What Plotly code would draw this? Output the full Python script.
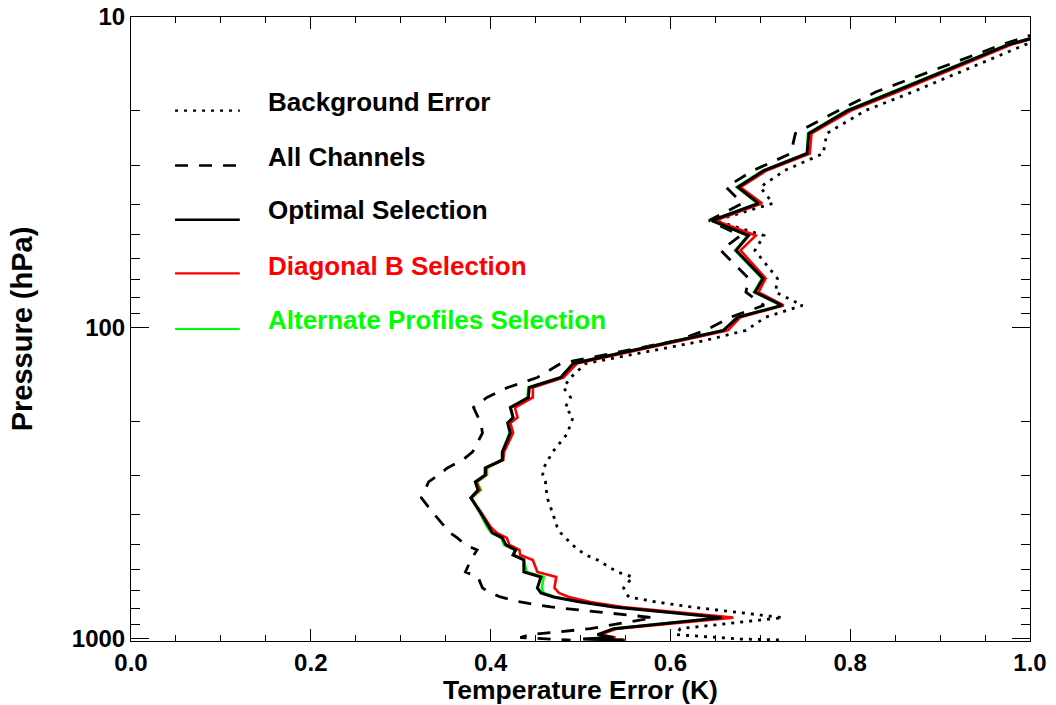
import plotly.graph_objects as go

# Pressure levels (hPa) shared by every profile
pressure = [10.0, 12.3, 17.4, 20.0, 23.7, 27.5, 31.2, 35.3, 39.8, 45.2,
            50.5, 56.4, 69.4, 76.9, 84.8, 92.5, 102.0, 109.9, 130.4, 144.7,
            155.8, 167.8, 180.7, 194.6, 202.6, 218.2, 251.2, 266.6, 282.8, 297.9,
            313.7, 333.0, 353.2, 394.8, 437.9, 457.8, 475.1, 500.4, 519.3, 539.0,
            559.4, 611.6, 634.6, 688.5, 714.5, 736.0, 763.8, 792.6, 857.8, 930.7,
            972.9, 994.8, 1005.0, 1013.0]

# Temperature error profiles (K)
background_error = [1.082, 0.994, 0.870, 0.817, 0.774, 0.770, 0.727, 0.700, 0.714, 0.650,
                    0.704, 0.694, 0.719, 0.717, 0.747, 0.706, 0.684, 0.639, 0.506, 0.489,
                    0.481, 0.489, 0.483, 0.492, 0.489, 0.486, 0.469, 0.464, 0.459, 0.458,
                    0.461, 0.462, 0.463, 0.469, 0.474, 0.478, 0.483, 0.491, 0.498, 0.506,
                    0.519, 0.541, 0.558, 0.548, 0.550, 0.554, 0.584, 0.623, 0.725, 0.611,
                    0.606, 0.653, 0.678, 0.726]

all_channels = [1.062, 0.968, 0.829, 0.787, 0.739, 0.734, 0.692, 0.662, 0.680, 0.643,
                0.678, 0.656, 0.687, 0.684, 0.704, 0.667, 0.639, 0.608, 0.478, 0.452,
                0.419, 0.396, 0.381, 0.386, 0.389, 0.391, 0.380, 0.369, 0.352, 0.342,
                0.331, 0.327, 0.323, 0.336, 0.350, 0.355, 0.363, 0.372, 0.385, 0.381,
                0.378, 0.372, 0.386, 0.391, 0.400, 0.411, 0.433, 0.467, 0.581, 0.511,
                0.444, 0.433, 0.461, 0.489]

optimal = [1.086, 0.975, 0.849, 0.797, 0.754, 0.752, 0.704, 0.675, 0.698, 0.646,
           0.687, 0.673, 0.703, 0.694, 0.724, 0.675, 0.659, 0.609, 0.492, 0.478,
           0.443, 0.442, 0.422, 0.425, 0.419, 0.422, 0.413, 0.413, 0.394, 0.394,
           0.383, 0.386, 0.378, 0.389, 0.398, 0.402, 0.413, 0.417, 0.428, 0.425,
           0.437, 0.437, 0.456, 0.452, 0.456, 0.470, 0.500, 0.537, 0.657, 0.537,
           0.519, 0.537, 0.503, 0.548]

diagonal_b = [1.088, 0.978, 0.853, 0.801, 0.757, 0.755, 0.707, 0.678, 0.702, 0.650,
              0.695, 0.678, 0.706, 0.698, 0.726, 0.678, 0.664, 0.613, 0.496, 0.481,
              0.447, 0.447, 0.427, 0.430, 0.422, 0.425, 0.415, 0.414, 0.395, 0.395,
              0.384, 0.388, 0.378, 0.390, 0.400, 0.407, 0.418, 0.421, 0.432, 0.433,
              0.447, 0.452, 0.473, 0.471, 0.476, 0.487, 0.511, 0.547, 0.670, 0.541,
              0.522, 0.539, 0.511, 0.550]

alternate = [1.085, 0.974, 0.847, 0.796, 0.753, 0.752, 0.703, 0.674, 0.697, 0.646,
             0.686, 0.672, 0.702, 0.693, 0.723, 0.674, 0.659, 0.608, 0.492, 0.478,
             0.442, 0.441, 0.422, 0.425, 0.419, 0.421, 0.413, 0.414, 0.396, 0.396,
             0.385, 0.389, 0.379, 0.388, 0.396, 0.401, 0.412, 0.415, 0.427, 0.425,
             0.437, 0.440, 0.459, 0.457, 0.459, 0.472, 0.501, 0.538, 0.659, 0.537,
             0.519, 0.537, 0.503, 0.548]

series = [
    ("Background Error", background_error, "black", "3px,6px", 2.8),
    ("All Channels", all_channels, "black", "13px,11px", 2.8),
    ("Alternate Profiles Selection", alternate, "#00ff00", "solid", 2.6),
    ("Diagonal B Selection", diagonal_b, "#ff0000", "solid", 2.6),
    ("Optimal Selection", optimal, "black", "solid", 3.0),
]

FONT = "Liberation Sans, Arial, Helvetica, sans-serif"

fig = go.Figure()
for name, vals, color, dash, width in series:
    fig.add_trace(go.Scatter(
        x=vals, y=pressure, mode="lines", name=name,
        line=dict(color=color, dash=dash, width=width),
        showlegend=False, hoverinfo="skip",
    ))

# Legend drawn in the upper-left corner of the plot area
legend_rows = [
    ("Background Error", "black", "3px,6px", 2.2),
    ("All Channels", "black", "13px,11px", 2.4),
    ("Optimal Selection", "black", "solid", 2.6),
    ("Diagonal B Selection", "#ff0000", "solid", 2.2),
    ("Alternate Profiles Selection", "#00ff00", "solid", 2.2),
]
row_line_y = [0.850, 0.762, 0.675, 0.589, 0.500]
row_text_y = [0.864, 0.776, 0.690, 0.601, 0.515]
for (label, color, dash, width), ly, ty in zip(legend_rows, row_line_y, row_text_y):
    fig.add_shape(type="line", xref="paper", yref="paper",
                  x0=0.049, x1=0.121, y0=ly, y1=ly,
                  line=dict(color=color, dash=dash, width=width))
    fig.add_annotation(xref="paper", yref="paper", x=0.1505, y=ty,
                       xanchor="left", yanchor="middle", showarrow=False,
                       text=f"<b>{label}</b>",
                       font=dict(family=FONT, size=26, color=color))

fig.update_xaxes(
    range=[0, 1], tickvals=[0, 0.2, 0.4, 0.6, 0.8, 1.0],
    ticktext=["<b>0.0</b>", "<b>0.2</b>", "<b>0.4</b>", "<b>0.6</b>", "<b>0.8</b>", "<b>1.0</b>"],
    ticks="inside", ticklen=12, tickcolor="black", tickwidth=1,
    minor=dict(dtick=0.05, ticks="inside", ticklen=6, tickcolor="black", tickwidth=1, showgrid=False),
    showline=True, linecolor="black", linewidth=1, mirror="ticks",
    showgrid=False, zeroline=False,
    tickfont=dict(family=FONT, size=24, color="black"),
    title=dict(text="<b>Temperature Error (K)</b>", standoff=6,
               font=dict(family=FONT, size=26.5, color="black")),
)

minor_p = [20, 30, 40, 50, 60, 70, 80, 90, 200, 300, 400, 500, 600, 700, 800, 900]
fig.update_yaxes(
    type="log", range=[3.0086, 1.0],
    tickvals=[10, 100, 1000], ticktext=["<b>10</b>", "<b>100</b>", "<b>1000</b>"],
    ticks="inside", ticklen=18, tickcolor="black", tickwidth=1,
    minor=dict(tickvals=minor_p, ticks="inside", ticklen=9, tickcolor="black", tickwidth=1, showgrid=False),
    showline=True, linecolor="black", linewidth=1, mirror="ticks",
    showgrid=False, zeroline=False,
    tickfont=dict(family=FONT, size=24, color="black"),
    title=dict(text="<b>Pressure (hPa)</b>", standoff=30,
               font=dict(family=FONT, size=29, color="black")),
)

fig.update_layout(
    width=1056, height=705,
    margin=dict(l=131, r=26, t=17, b=64, autoexpand=False),
    plot_bgcolor="white", paper_bgcolor="white",
    showlegend=False,
)

fig.write_html("out.html")
